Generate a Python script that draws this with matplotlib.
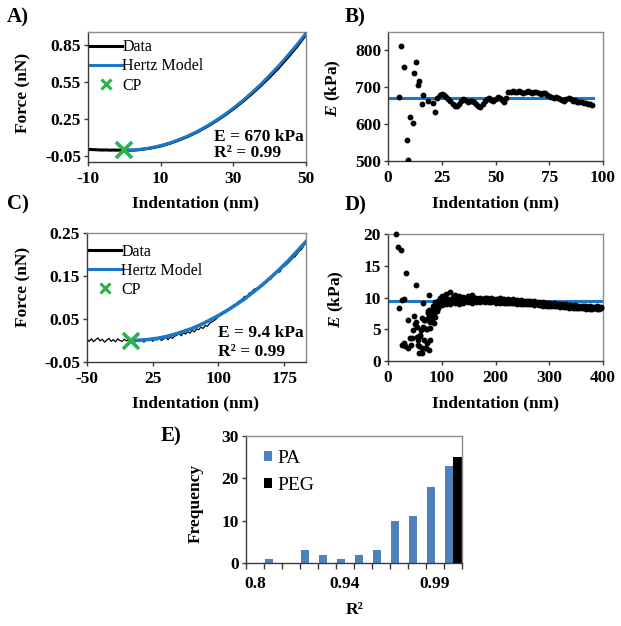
import matplotlib
matplotlib.use('Agg')
import matplotlib.pyplot as plt
from matplotlib.lines import Line2D
import numpy as np

plt.rcParams['font.family'] = ['Liberation Serif', 'DejaVu Serif']
plt.rcParams['font.weight'] = 'bold'
plt.rcParams['axes.unicode_minus'] = False
plt.rcParams['mathtext.fontset'] = 'custom'
plt.rcParams['mathtext.it'] = 'Liberation Serif:italic:bold'
plt.rcParams['mathtext.rm'] = 'Liberation Serif:bold'

# ---------------- data ----------------
# Panel A
a_data_x = [-10, -9, -8, -7, -6, -5, -4, -3, -2, -1, 0,
            2.5, 5, 7.5, 10, 12.5, 15, 17.5, 20, 22.5, 25, 27.5, 30,
            32.5, 35, 37.5, 40, 42.5, 45, 47.5, 50]
a_data_y = [0.002, 0.001, 0.0, -0.002, -0.003, -0.002, -0.004, -0.003, -0.004, -0.003, -0.004,
            -0.004, 0.003, 0.014, 0.030, 0.051, 0.078, 0.108, 0.143, 0.183, 0.228, 0.277, 0.331,
            0.389, 0.452, 0.519, 0.590, 0.667, 0.750, 0.838, 0.935]
a_fit_x = [0, 2.5, 5, 7.5, 10, 12.5, 15, 17.5, 20, 22.5, 25, 27.5, 30,
           32.5, 35, 37.5, 40, 42.5, 45, 47.5, 50]
a_fit_y = [-0.005, -0.003, 0.005, 0.016, 0.033, 0.054, 0.081, 0.111, 0.147, 0.187, 0.233,
           0.282, 0.337, 0.396, 0.461, 0.529, 0.603, 0.681, 0.765, 0.852, 0.945]
a_cp = (0.0, -0.005)

# Panel B
b_early_x = [5.0, 6.0, 7.3, 9.1, 9.0, 10.4, 11.6, 12.1, 13.1, 14.0, 14.5, 16.0, 16.2, 18.4, 20.9, 21.8]
b_early_y = [673, 812, 755, 504, 556, 620, 604, 739, 769, 705, 717, 654, 680, 663, 657, 633]
b_chain_x = list(range(23, 96))
b_chain_y = [672, 680, 683, 680, 674, 668, 664, 655, 648, 650,
             656, 662, 668, 666, 660, 662, 664, 660, 656, 650,
             647, 655, 662, 668, 670, 665, 662, 668, 675, 672,
             666, 660, 670, 686, 688, 689, 688, 686, 689, 688,
             685, 688, 689, 686, 684, 687, 688, 684, 682, 685,
             684, 679, 676, 673, 672, 674, 671, 668, 666, 664,
             667, 670, 668, 664, 665, 661, 659, 660, 657, 658,
             655, 654, 652]
b_fit_x = [0, 95.5]
b_fit_y = [670, 670]

# Panel C
c_data_x = list(np.arange(-50, 200.1, 2.5))
c_data_y = [0.003, -0.002, 0.004, -0.003, 0.002, 0.006, -0.001, 0.003, -0.004, 0.001,
            0.005, -0.002, 0.002, -0.003, 0.004, 0.000, -0.002, 0.003, -0.001, 0.002, 0.000,
            0.001, -0.003, 0.002, -0.001, 0.003, -0.004, 0.002, 0.000, 0.004, -0.002,
            0.003, 0.001, 0.006, 0.000, 0.004, 0.007, 0.002, 0.008, 0.005, 0.010,
            0.012, 0.016, 0.011, 0.018, 0.015, 0.021, 0.017, 0.024, 0.020, 0.027,
            0.025, 0.031, 0.028, 0.035, 0.033, 0.040, 0.043, 0.046, 0.050, 0.056,
            0.058, 0.066, 0.064, 0.071, 0.074, 0.078, 0.083, 0.082, 0.090, 0.093,
            0.097, 0.103, 0.101, 0.110, 0.112, 0.118, 0.121, 0.119, 0.127, 0.131,
            0.132, 0.138, 0.145, 0.143, 0.150, 0.156, 0.160, 0.159, 0.168, 0.172,
            0.176, 0.181, 0.186, 0.192, 0.195, 0.202, 0.208, 0.212, 0.220, 0.227]
c_fit_x = [0, 10, 20, 30, 40, 50, 60, 70, 80, 90, 100, 110, 120, 130, 140, 150,
           160, 170, 180, 190, 200]
c_fit_y = [0.000, 0.0006, 0.0023, 0.005, 0.009, 0.0145, 0.021, 0.028, 0.037, 0.047, 0.058,
           0.070, 0.083, 0.097, 0.113, 0.129, 0.147, 0.166, 0.186, 0.208, 0.230]
c_cp = (0.0, 0.0)

# Panel D
d_hi_x = [15, 18, 24, 33, 51.5, 20.5, 25.4, 30, 77, 64.5]
d_hi_y = [20.0, 18.0, 17.5, 13.8, 11.9, 8.3, 9.6, 9.8, 10.4, 9.2]
d_lo_x = [26.7, 31.6, 36.6, 42.8, 40.9, 47.1, 48.9, 50.1, 53.3, 53.3,
          55.2, 56.4, 58.3, 59.5, 61.4, 62.6, 63.9, 65.7, 67.6, 68.8,
          70.1, 71.9, 71.9, 73.8, 75.0, 76.3, 78.1, 80.0, 81.2, 82.5,
          84.3, 86.2, 87.4, 87.4, 88.7, 90.5, 92.4, 93.6, 94.9, 96.7,
          98.6, 99.8, 29.0, 37.0, 44.5, 51.9, 58.1, 60.0, 63.1, 67.4,
          69.2, 71.1, 75.4, 77.3, 73.6, 79.0, 83.0, 85.0, 91.0, 95.0]
d_lo_y = [2.5, 2.3, 6.5, 2.5, 3.6, 4.9, 7.1, 5.9, 5.4, 3.8,
          3.3, 2.5, 1.2, 4.1, 4.9, 2.0, 6.7, 5.4, 6.5, 2.0,
          5.1, 5.1, 2.8, 6.7, 7.5, 8.0, 6.2, 7.2, 8.0, 6.6,
          8.6, 7.5, 9.3, 7.0, 8.0, 8.7, 9.5, 8.3, 9.1, 9.9,
          9.3, 10.1, 2.9, 2.1, 3.6, 6.2, 2.3, 3.9, 1.2, 3.3,
          6.5, 2.0, 1.7, 3.3, 7.8, 5.2, 7.4, 6.0, 7.8, 8.8]
d_band_x = list(range(100, 400, 4))
d_band_y1 = [10.3, 9.2, 10.6, 9.4, 10.8, 9.6, 10.4, 9.9, 10.2, 9.5,
             10.1, 9.8, 10.3, 9.7, 10.4, 9.9, 10.0, 9.7, 10.0, 9.8,
             9.9, 10.0, 9.7, 9.9, 9.8, 9.8, 9.7, 9.9, 9.7, 9.8,
             9.6, 9.7, 9.6, 9.7, 9.5, 9.6, 9.5, 9.6, 9.4, 9.5,
             9.4, 9.5, 9.3, 9.4, 9.3, 9.3, 9.2, 9.3, 9.2, 9.1,
             9.2, 9.0, 9.1, 9.0, 8.9, 9.0, 8.9, 8.8, 8.9, 8.8,
             8.8, 8.7, 8.8, 8.7, 8.6, 8.7, 8.6, 8.6, 8.5, 8.6,
             8.5, 8.5, 8.6, 8.5, 8.5]
d_band_y2 = [8.8, 9.9, 8.9, 9.7, 9.0, 10.1, 9.1, 9.4, 9.0, 9.8,
             9.2, 9.5, 9.3, 9.4, 9.1, 9.5, 9.3, 9.4, 9.3, 9.4,
             9.3, 9.4, 9.3, 9.3, 9.4, 9.2, 9.3, 9.2, 9.3, 9.1,
             9.2, 9.2, 9.1, 9.1, 9.2, 9.0, 9.1, 9.0, 9.0, 8.9,
             9.0, 8.9, 8.9, 8.8, 8.9, 8.8, 8.8, 8.7, 8.8, 8.7,
             8.7, 8.6, 8.7, 8.6, 8.6, 8.5, 8.6, 8.5, 8.5, 8.4,
             8.5, 8.4, 8.4, 8.3, 8.4, 8.3, 8.3, 8.2, 8.3, 8.2,
             8.2, 8.3, 8.2, 8.2, 8.3]
d_fit_x = [0, 400]
d_fit_y = [9.4, 9.4]

# Panel E
e_categories = ['0.8', '0.9', '0.91', '0.92', '0.93', '0.94', '0.95', '0.96',
                '0.97', '0.98', '0.99', '1']
e_pa = [0, 1, 0, 3, 2, 1, 2, 3, 10, 11, 18, 23]
e_peg = [0, 0, 0, 0, 0, 0, 0, 0, 0, 0, 0, 25]
e_shown_labels = ['0.8', '0.94', '0.99']

# ---------------- styling ----------------
BLUE = '#1c78c6'
GREEN = '#2bb24c'
BAR_BLUE = '#4f81bd'
W, H = 621, 626
fig = plt.figure(figsize=(W / 100, H / 100), dpi=100)


def rect(l, t, r, b):
    return [l / W, 1 - b / H, (r - l) / W, (b - t) / H]


def ftext(x, y, s, **kw):
    fig.text(x / W, 1 - y / H, s, **kw)


def style(ax):
    for s in ['left', 'bottom']:
        ax.spines[s].set_color('#3a3a3a')
        ax.spines[s].set_linewidth(1.0)
    for s in ['top', 'right']:
        ax.spines[s].set_color('#8c8c8c')
        ax.spines[s].set_linewidth(1.0)
    ax.tick_params(direction='out', length=3, width=1, color='#3a3a3a',
                   labelsize=12.5)
    ax.tick_params(axis='x', pad=3.5)
    ax.tick_params(axis='y', pad=2)


LBL = dict(fontsize=12.5, fontweight='bold', ha='center', va='center')
PNL = dict(fontsize=15, fontweight='bold', ha='left', va='center')
LEG = dict(frameon=False, borderpad=0, borderaxespad=0, handlelength=2.0,
           handletextpad=0.05, labelspacing=0.2, prop={'size': 11.5, 'weight': 'normal'})

# ---- Panel A ----
axA = fig.add_axes(rect(88, 32, 306, 162))
style(axA)
axA.plot(a_data_x, a_data_y, color='black', lw=2.2, zorder=2)
axA.plot(a_fit_x, a_fit_y, color=BLUE, lw=2.2, zorder=3)
axA.plot([a_cp[0]], [a_cp[1]], ls='none', marker='x', ms=11, mew=2.6, color=GREEN, zorder=4)
axA.set_xlim(-10, 50)
axA.set_ylim(-0.1, 0.955)
axA.set_xticks([-10, 10, 30, 50])
axA.set_yticks([-0.05, 0.25, 0.55, 0.85])
axA.set_yticklabels(['-0.05', '0.25', '0.55', '0.85'])
hA = [Line2D([], [], color='black', lw=2.2),
      Line2D([], [], color=BLUE, lw=2.2),
      Line2D([], [], ls='none', marker='x', ms=7, mew=2.2, color=GREEN)]
axA.legend(hA, ['Data', 'Hertz Model', 'CP'], loc='upper left',
           bbox_to_anchor=(0.008, 0.945), **LEG)
ftext(214, 137, 'E = 670 kPa', fontsize=12.5, fontweight='bold', ha='left', va='center')
ftext(214, 153, 'R² = 0.99', fontsize=12.5, fontweight='bold', ha='left', va='center')
ftext(7, 17, 'A)', **PNL)
ftext(23, 93, 'Force (nN)', rotation=90, **LBL)
ftext(195, 203, 'Indentation (nm)', **LBL)

# ---- Panel B ----
axB = fig.add_axes(rect(388, 32, 603, 161))
style(axB)
axB.plot(b_fit_x, b_fit_y, color=BLUE, lw=2.2, zorder=2)
axB.plot(b_early_x, b_early_y, ls='none', marker='o', ms=3.2, color='black', zorder=3)
axB.plot(b_chain_x, b_chain_y, ls='none', marker='o', ms=3.2, color='black', zorder=3)
axB.set_xlim(0, 100)
axB.set_ylim(500, 850)
axB.set_xticks([0, 25, 50, 75, 100])
axB.set_yticks([500, 600, 700, 800])
ftext(345, 17, 'B)', **PNL)
ftext(333, 88, r'$E$ (kPa)', rotation=90, **LBL)
ftext(496, 203, 'Indentation (nm)', **LBL)

# ---- Panel C ----
axC = fig.add_axes(rect(87, 233, 306, 362))
style(axC)
axC.plot(c_data_x, c_data_y, color='black', lw=0.9, zorder=2)
axC.plot(c_fit_x, c_fit_y, color=BLUE, lw=2.6, zorder=3)
axC.plot([c_cp[0]], [c_cp[1]], ls='none', marker='x', ms=11, mew=2.6, color=GREEN, zorder=4)
axC.set_xlim(-50, 200)
axC.set_ylim(-0.05, 0.25)
axC.set_xticks([-50, 25, 100, 175])
axC.set_yticks([-0.05, 0.05, 0.15, 0.25])
axC.set_yticklabels(['-0.05', '0.05', '0.15', '0.25'])
hC = [Line2D([], [], color='black', lw=2.2),
      Line2D([], [], color=BLUE, lw=2.2),
      Line2D([], [], ls='none', marker='x', ms=7, mew=2.2, color=GREEN)]
axC.legend(hC, ['Data', 'Hertz Model', 'CP'], loc='upper left',
           bbox_to_anchor=(0.008, 0.918), **LEG)
ftext(218, 333, 'E = 9.4 kPa', fontsize=12.5, fontweight='bold', ha='left', va='center')
ftext(218, 352, 'R² = 0.99', fontsize=12.5, fontweight='bold', ha='left', va='center')
ftext(7, 204, 'C)', **PNL)
ftext(23, 287, 'Force (nN)', rotation=90, **LBL)
ftext(195, 403, 'Indentation (nm)', **LBL)

# ---- Panel D ----
axD = fig.add_axes(rect(388, 234, 603, 361))
style(axD)
axD.plot(d_fit_x, d_fit_y, color=BLUE, lw=2.2, zorder=2)
for xs, ys in [(d_hi_x, d_hi_y), (d_lo_x, d_lo_y), (d_band_x, d_band_y1), (d_band_x, d_band_y2)]:
    axD.plot(xs, ys, ls='none', marker='o', ms=3.2, color='black', zorder=3, clip_on=False)
axD.set_xlim(0, 400)
axD.set_ylim(0, 20)
axD.set_xticks([0, 100, 200, 300, 400])
axD.set_yticks([0, 5, 10, 15, 20])
ftext(345, 205, 'D)', **PNL)
ftext(336, 299, r'$E$ (kPa)', rotation=90, **LBL)
ftext(496, 403, 'Indentation (nm)', **LBL)

# ---- Panel E ----
axE = fig.add_axes(rect(246, 436, 462, 563))
style(axE)
pos = np.arange(len(e_categories))
axE.bar(pos - 0.24, e_pa, width=0.45, color=BAR_BLUE, label='PA')
axE.bar(pos + 0.25, e_peg, width=0.48, color='black', label='PEG')
axE.set_xlim(-0.5, len(e_categories) - 0.5)
axE.set_ylim(0, 30)
axE.set_yticks([0, 10, 20, 30])
shown = [i for i, c in enumerate(e_categories) if c in e_shown_labels]
axE.set_xticks(shown)
axE.set_xticklabels([e_categories[i] for i in shown])
axE.set_xticks(np.arange(-0.5, len(e_categories), 1.0), minor=True)
axE.tick_params(axis='x', which='major', length=0, pad=9)
axE.tick_params(axis='x', which='minor', direction='out', length=4, width=1, color='#3a3a3a')
axE.legend(loc='upper left', bbox_to_anchor=(0.085, 0.89), frameon=False, borderpad=0,
           borderaxespad=0, handlelength=0.4, handleheight=0.4, handletextpad=0.25,
           labelspacing=0.5, prop={'size': 14, 'weight': 'normal'})
ftext(161, 436, 'E)', **PNL)
ftext(196, 503, 'Frequency', rotation=90, **LBL)
ftext(355, 610, 'R²', **LBL)

fig.savefig('out.png', dpi=100)
